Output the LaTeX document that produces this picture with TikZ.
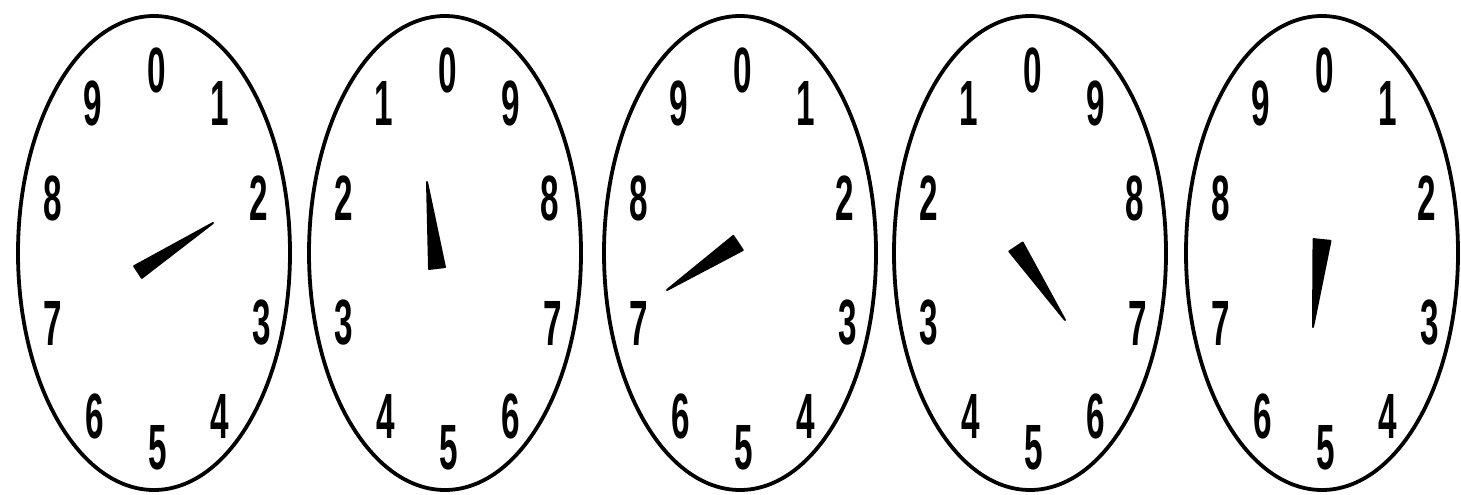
\documentclass[tikz,border=0pt]{standalone}
\usepackage{fontspec}
\setmainfont{Liberation Sans}
\usetikzlibrary{calc}
\tikzset{
  dial/.style={draw=black, line width=3.8pt},
  digit/.style={inner sep=0pt, font=\fontsize{64}{64}\selectfont\bfseries},
  pointer/.style={fill=black, draw=black, line width=2pt, line join=round}
}
\newcommand{\dg}[1]{\scalebox{0.52}[1]{#1}}
\begin{document}
\begin{tikzpicture}[x=1pt, y=-1pt]
\useasboundingbox (0,0) rectangle (1461,495);
\fill[white] (0,0) rectangle (1461,495);
% slot offsets (relative to dial centre) for positions 0..9 going clockwise
\def\slotx{{3,66,105,108,66,4,-59,-101,-101,-61}}
\def\sloty{{-183,-150,-55,70,163,195,163,70,-55,-150}}
\foreach \i/\cx/\dir/\bx/\by/\tx/\ty/\w in {
  1/154/1/138/272/213/223/7,
  2/445/-1/437/268/427/182/8,
  3/740/1/738/243/667/290/8.5,
  4/1030/-1/1016/247/1065/320/8,
  5/1322/1/1322/240/1313/327/8.5}{
  \draw[dial] (\cx,253) ellipse [x radius=136, y radius=237];
  \foreach \k in {0,...,9}{
    \pgfmathsetmacro{\px}{\cx+\slotx[\k]}
    \pgfmathsetmacro{\py}{253+\sloty[\k]}
    \pgfmathtruncatemacro{\lab}{\dir==1 ? \k : mod(10-\k,10)}
    \node[digit] (d\i-\k) at (\px,\py) {\dg{\lab}};
  }
  \coordinate (b\i) at (\bx,\by);
  \coordinate (t\i) at (\tx,\ty);
  \filldraw[pointer] ($(b\i)!\w pt!90:(t\i)$) -- (t\i) -- ($(b\i)!\w pt!-90:(t\i)$) -- cycle;
}
\end{tikzpicture}
\end{document}
